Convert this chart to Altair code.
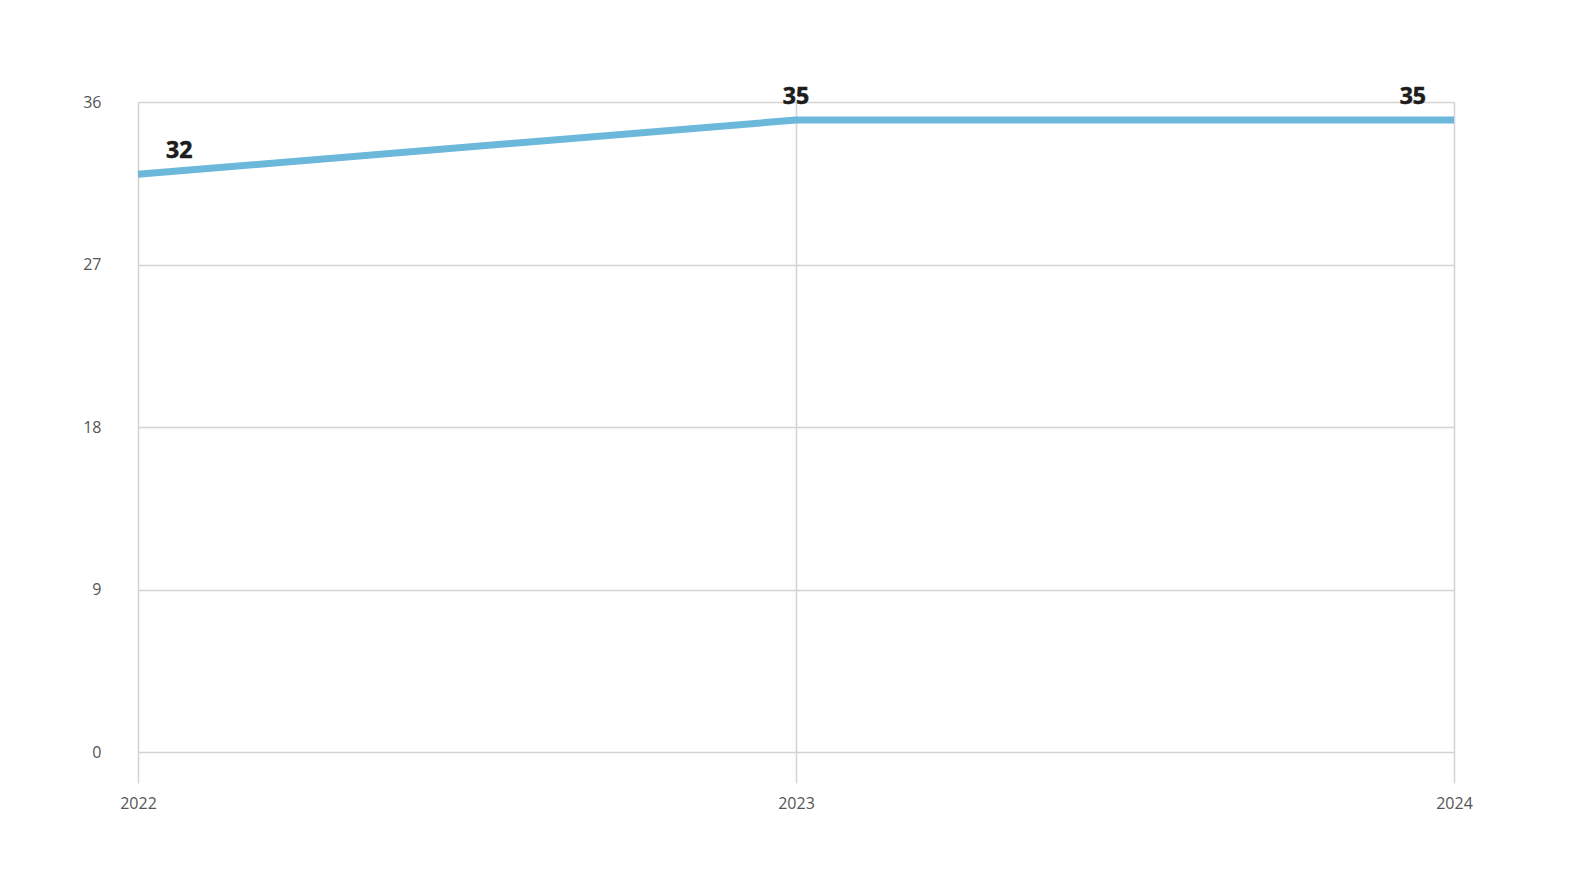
import altair as alt
import pandas as pd

years = ["2022", "2023", "2024"]
values = [32, 35, 35]
y_ticks = [0, 9, 18, 27, 36]

df = pd.DataFrame({"year": years, "value": values})

FONT = "Open Sans"

x_enc = alt.X("year:O",
              scale=alt.Scale(type="point", padding=0, domain=years),
              axis=alt.Axis(title=None, grid=True, labelAngle=0,
                            gridColor="#d3d3d3", gridWidth=1.5,
                            tickColor="#d3d3d3", tickWidth=1.5, tickSize=31,
                            domain=False, labelFont=FONT, labelFontSize=16,
                            labelColor="#555555", labelPadding=12,
                            labelOverlap=False))
y_enc = alt.Y("value:Q",
              scale=alt.Scale(domain=[0, 36], nice=False),
              axis=alt.Axis(values=y_ticks, title=None, grid=True,
                            gridColor="#d3d3d3", gridWidth=1.5, ticks=False,
                            domain=False, labelFont=FONT, labelFontSize=16,
                            labelColor="#555555", labelPadding=37))

base = alt.Chart(df)

line = base.mark_line(color="#6bb8db", strokeWidth=7).encode(x=x_enc, y=y_enc)

def label(year, align, dx):
    return base.transform_filter(alt.datum.year == year).mark_text(
        align=align, baseline="middle", dx=dx, dy=-23, font=FONT,
        fontSize=23, fontWeight="bold", color="#1c1c1c",
        stroke="#1c1c1c", strokeWidth=0.6
    ).encode(x="year:O", y="value:Q", text="value:Q")

chart = alt.layer(
    line,
    label("2022", "left", 28),
    label("2023", "center", 0),
    label("2024", "right", -28),
).properties(
    width=1316, height=650,
    autosize=alt.AutoSizeParams(type="none"),
    padding={"left": 130, "top": 94, "right": 122, "bottom": 127},
).configure_view(stroke=None).configure(background="white")

chart.save("out.html", embed_options={"renderer": "svg", "actions": False})
